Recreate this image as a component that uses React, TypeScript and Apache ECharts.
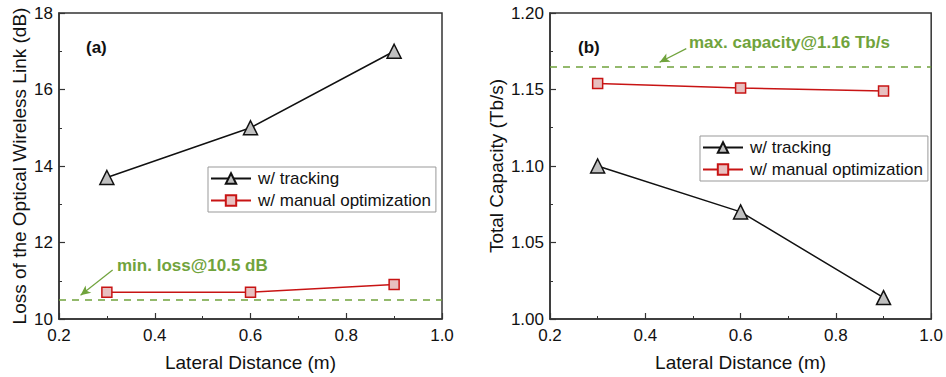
import React, { useEffect, useRef } from "react";
import * as echarts from "echarts";

const distances = [0.3, 0.6, 0.9];
const lossTracking = [13.7, 15.0, 17.0];
const lossManual = [10.7, 10.7, 10.9];
const minLoss = 10.5;
const capTracking = [1.1, 1.07, 1.014];
const capManual = [1.154, 1.151, 1.149];
const maxCapacity = 1.165;
const seriesNames = ["w/ tracking", "w/ manual optimization"];
const lossArrow = [[0.312, 11.28], [0.245, 10.62]];
const capArrow = [[0.486, 1.1767], [0.43, 1.1678]];

const FONT = "'Liberation Sans', Arial, sans-serif";
const GREEN = "#70a33c";
const RED = "#c81414";

function pairs(xs: number[], ys: number[]) {
  return xs.map((x, i) => [x, ys[i]]);
}

export default function App() {
  const ref = useRef<HTMLDivElement>(null);
  useEffect(() => {
    const chart = echarts.init(ref.current!, null, { renderer: "svg" });
    const axisLabel = { fontSize: 17, color: "#111", fontFamily: FONT };
    const xAxisBase = (gridIndex: number) => ({
      type: "value" as const,
      gridIndex,
      min: 0.2,
      max: 1.0,
      interval: 0.2,
      name: "Lateral Distance (m)",
      nameLocation: "middle" as const,
      nameGap: 34,
      nameTextStyle: { fontSize: 19, color: "#111", fontFamily: FONT },
      axisLine: { show: true, lineStyle: { color: "#333", width: 1.5 } },
      axisTick: { show: true, inside: true, length: 6, lineStyle: { color: "#333", width: 1.2 } },
      minorTick: { show: true, splitNumber: 2, length: 3, lineStyle: { color: "#333", width: 1 } },
      splitLine: { show: false },
      axisLabel: { ...axisLabel, margin: 8, formatter: (v: number) => v.toFixed(1) },
    });
    const lineSeries = (name: string, data: number[][], idx: number, tracking: boolean, mark: any) => ({
      type: "line" as const,
      name,
      xAxisIndex: idx,
      yAxisIndex: idx,
      data,
      symbol: tracking ? "triangle" : "rect",
      symbolSize: tracking ? 14 : 10,
      lineStyle: { color: tracking ? "#111" : RED, width: 1.5 },
      itemStyle: {
        color: tracking ? "#c0c0c0" : "#e8c0c0",
        borderColor: tracking ? "#111" : RED,
        borderWidth: 1.5,
      },
      markLine: mark,
      z: 3,
    });
    const hLine = (v: number, arrow: number[][]) => ({
      silent: true,
      precision: 4,
      symbol: ["none", "none"],
      label: { show: false },
      data: [
        { yAxis: v, lineStyle: { color: GREEN, type: [7, 6], width: 1.5 } },
        [
          { coord: arrow[0], symbol: "none", lineStyle: { color: GREEN, type: "solid", width: 1.2 } },
          { coord: arrow[1], symbol: "arrow", symbolSize: [7, 10] },
        ],
      ],
    });
    const legendBase = {
      orient: "vertical" as const,
      itemWidth: 40,
      itemHeight: 13,
      itemGap: 5,
      borderColor: "#999",
      borderWidth: 1,
      padding: [3, 5, 3, 2],
      backgroundColor: "#fff",
      textStyle: { fontSize: 17, color: "#111", fontFamily: FONT, padding: [0, 0, 0, 2] },
    };
    chart.setOption({
      animation: false,
      textStyle: { fontFamily: FONT },
      grid: [
        { left: 59, top: 13, width: 383, height: 307, show: true, borderColor: "#333", borderWidth: 1.5 },
        { left: 550, top: 13, width: 383, height: 307, show: true, borderColor: "#333", borderWidth: 1.5 },
      ],
      xAxis: [xAxisBase(0), xAxisBase(1)],
      yAxis: [
        {
          type: "value",
          gridIndex: 0,
          min: 10,
          max: 18,
          interval: 2,
          name: "Loss of the Optical Wireless Link (dB)",
          nameLocation: "middle",
          nameGap: 30,
          nameTextStyle: { fontSize: 19, color: "#111", fontFamily: FONT },
          axisLine: { show: true, lineStyle: { color: "#333", width: 1.5 } },
          axisTick: { show: true, inside: true, length: 6, lineStyle: { color: "#333", width: 1.2 } },
          minorTick: { show: true, splitNumber: 2, length: 3, lineStyle: { color: "#333", width: 1 } },
          splitLine: { show: false },
          axisLabel: { ...axisLabel, margin: 6 },
        },
        {
          type: "value",
          gridIndex: 1,
          min: 1.0,
          max: 1.2,
          interval: 0.05,
          name: "Total Capacity (Tb/s)",
          nameLocation: "middle",
          nameGap: 44,
          nameTextStyle: { fontSize: 19, color: "#111", fontFamily: FONT },
          axisLine: { show: true, lineStyle: { color: "#333", width: 1.5 } },
          axisTick: { show: true, inside: true, length: 6, lineStyle: { color: "#333", width: 1.2 } },
          minorTick: { show: true, splitNumber: 2, length: 3, lineStyle: { color: "#333", width: 1 } },
          splitLine: { show: false },
          axisLabel: { ...axisLabel, margin: 6, formatter: (v: number) => v.toFixed(2) },
        },
      ],
      legend: [
        { ...legendBase, left: 208, top: 167, data: seriesNames },
        { ...legendBase, left: 700, top: 136, data: seriesNames },
      ],
      series: [
        lineSeries(seriesNames[0], pairs(distances, lossTracking), 0, true, undefined),
        lineSeries(seriesNames[1], pairs(distances, lossManual), 0, false, hLine(minLoss, lossArrow)),
        lineSeries(seriesNames[0], pairs(distances, capTracking), 1, true, undefined),
        lineSeries(seriesNames[1], pairs(distances, capManual), 1, false, hLine(maxCapacity, capArrow)),
      ],
      graphic: [
        { type: "text", left: 86, top: 39, style: { text: "(a)", font: `bold 17px ${FONT}`, fill: "#111" } },
        { type: "text", left: 578, top: 39, style: { text: "(b)", font: `bold 17px ${FONT}`, fill: "#111" } },
        { type: "text", left: 117, top: 257, style: { text: "min. loss@10.5 dB", font: `bold 17px ${FONT}`, fill: GREEN } },
        { type: "text", left: 689, top: 34, style: { text: "max. capacity@1.16 Tb/s", font: `bold 17px ${FONT}`, fill: GREEN } },
      ],
    });
    return () => chart.dispose();
  }, []);
  return (
    <div
      ref={ref}
      style={{ position: "fixed", left: 0, top: 0, width: 946, height: 377, background: "#fff" }}
    />
  );
}
